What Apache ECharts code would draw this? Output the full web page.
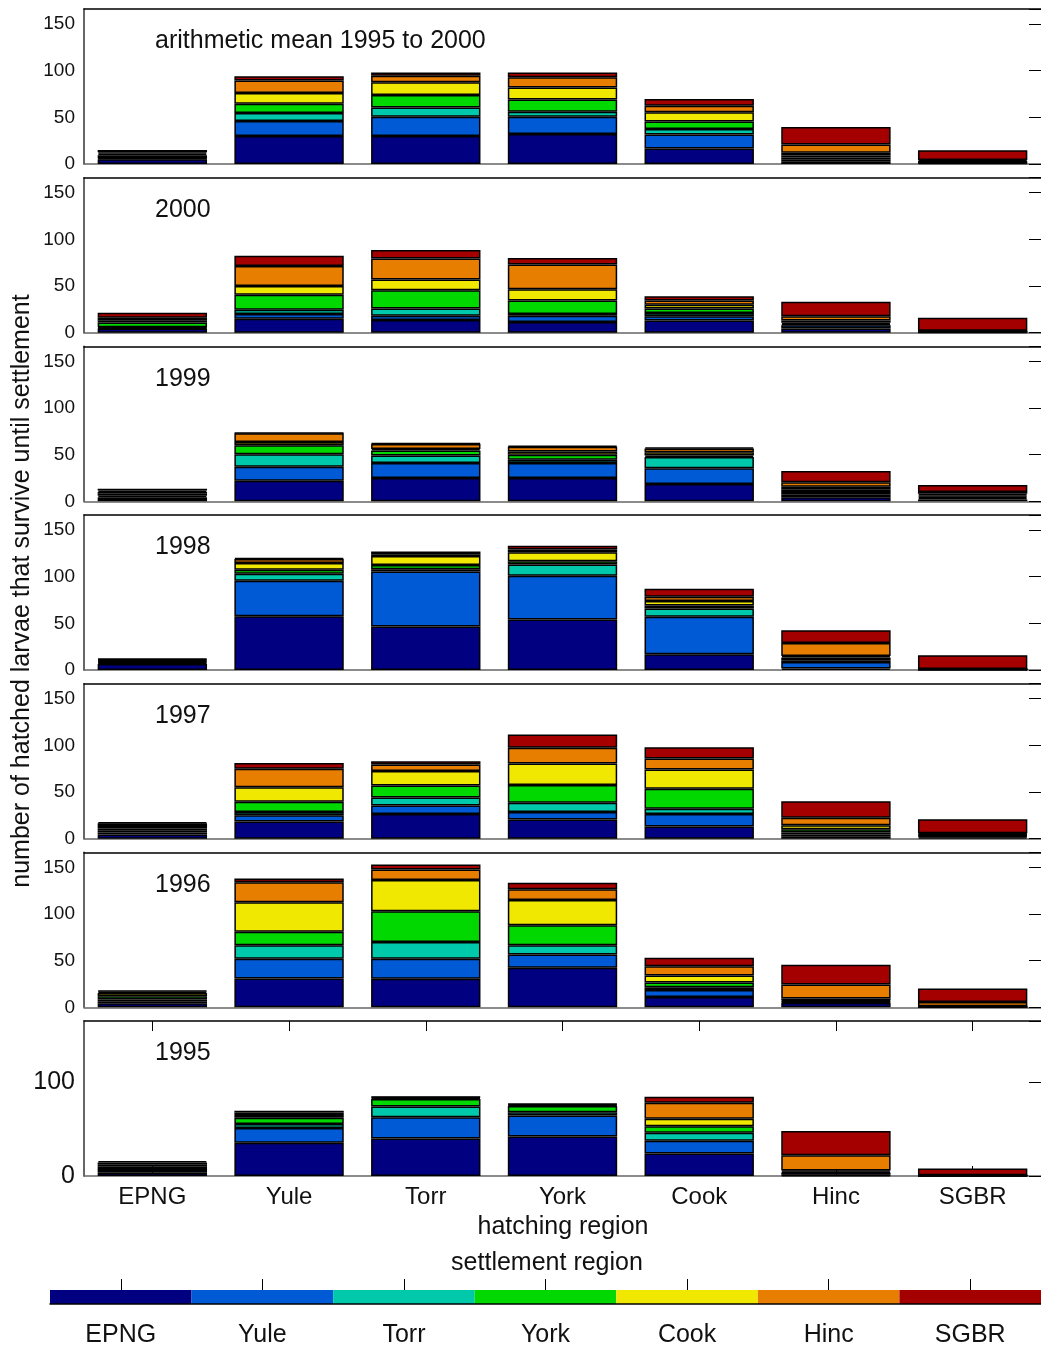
<!DOCTYPE html>
<html>
<head>
<meta charset="utf-8">
<script src="https://cdn.jsdelivr.net/npm/echarts@6/dist/echarts.min.js"></script>
<style>
html, body { margin: 0; padding: 0; background: #fff; }
#main { width: 1041px; height: 1348px; }
</style>
</head>
<body>
<div id="main"></div>
<script>
// hatching regions (bars) and settlement regions (stack segments) use the same names
var regions = ['EPNG', 'Yule', 'Torr', 'York', 'Cook', 'Hinc', 'SGBR'];
var regionColors = ['#000080', '#005ad6', '#00c8aa', '#00d800', '#f0e800', '#e87e00', '#a50000'];
var panelTitles = ['arithmetic mean 1995 to 2000', '2000', '1999', '1998', '1997', '1996', '1995'];
var yTicksSmall = [0, 50, 100, 150];
var yTicksLast = [0, 100];

// rows = hatching region, columns = settlement region
var dMean = [
    [5, 1, 0.5, 3, 1.5, 1.5, 2.5],
    [30, 16, 8.5, 10, 11.5, 13.5, 4.5],
    [30, 20.5, 10, 13.5, 13.5, 7, 3.5],
    [32, 18.5, 5.5, 13, 13, 11, 5],
    [16.5, 15, 6, 8, 10, 7, 7],
    [2.5, 2.5, 2, 2, 3, 9, 18.5],
    [1, 0.5, 0.3, 0.5, 0.5, 1.5, 10.5]
];
var d2000 = [
    [4.5, 0.7, 0.7, 5, 2.5, 2.5, 5.5],
    [15, 5, 4.5, 16, 9.5, 21.5, 11],
    [13.5, 4.5, 8, 19.5, 11.5, 22.5, 9],
    [11.5, 6.5, 2, 14.5, 12, 26.5, 7],
    [13, 4.5, 3.5, 5, 4, 4.5, 4.5],
    [4.5, 3.5, 1, 1.5, 2.5, 4.5, 15.5],
    [0.5, 0.3, 0.2, 0.3, 0.3, 0.5, 14]
];
var d1999 = [
    [2.5, 2, 1.5, 2, 2, 1.5, 2],
    [22, 15, 13.5, 9.5, 3.5, 9.5, 0.5],
    [25, 16, 8, 5.5, 1.5, 5.5, 0.7],
    [25, 16, 3.5, 5.5, 3.5, 5, 1],
    [18.5, 17, 12, 1.5, 3.5, 4, 1.5],
    [4.5, 2.5, 3, 2.5, 3, 5, 12],
    [2, 1.5, 1.5, 1.5, 1.5, 2, 7.5]
];
var d1998 = [
    [6.5, 1, 1, 1, 1, 0.8, 0.8],
    [57.5, 38, 7.5, 4.5, 7, 4.5, 1],
    [46.5, 59, 2.5, 4.5, 9.5, 2, 3],
    [54, 47, 12, 3.5, 9.5, 3, 4],
    [17, 40, 9, 3, 5, 4.5, 8.5],
    [1.5, 7, 2, 3, 1.5, 14, 13.5],
    [0.3, 0.2, 0.1, 0.2, 0.1, 0.3, 14.5]
];
var d1997 = [
    [4.5, 2, 2, 2.5, 2.5, 3, 1.3],
    [18.5, 6.5, 3.5, 11, 15.5, 20, 6],
    [26.5, 9, 8.5, 13, 15.5, 7, 3.5],
    [20.5, 8, 10, 19, 23, 17, 14],
    [13, 13.5, 5.5, 21.5, 20.5, 12, 12],
    [2, 2.5, 2, 3.5, 4.5, 8, 17.5],
    [1.5, 1, 0.8, 0.8, 0.8, 1, 15]
];
var d1996 = [
    [4.5, 2, 2, 3.5, 3.5, 1.5, 1],
    [31, 21, 14.5, 14.5, 31.5, 21.5, 4],
    [30.5, 21.5, 18, 33, 33.5, 11, 5.5],
    [42.5, 14, 10, 21.5, 27, 11.5, 7],
    [11, 7.5, 3, 5, 7.5, 10, 9],
    [5, 1, 0.5, 1, 2, 15, 21],
    [0.3, 0.2, 0.2, 0.2, 0.2, 4.5, 14.5]
];
var d1995 = [
    [3.5, 3, 2, 2, 2, 2, 1.5],
    [35.5, 15.5, 4.5, 6.5, 3, 2.5, 2],
    [40, 22.5, 11.5, 8, 1, 1, 0.5],
    [42, 22.5, 3.5, 6.5, 1, 0.8, 0.5],
    [24, 13.5, 8.5, 7, 8, 17, 6.5],
    [0.8, 0.7, 2, 1, 1.5, 16, 26],
    [0.2, 0.1, 0.1, 0.1, 0.1, 0.3, 7]
];
var panelData = [dMean, d2000, d1999, d1998, d1997, d1996, d1995];

var FONT = '"Liberation Sans", Arial, sans-serif';
var TXT = '#111';

var grids = [], xAxes = [], yAxes = [], series = [], titles = [];

panelData.forEach(function (rows, p) {
    var last = p === panelData.length - 1;
    var bottomY = 164 + p * 168.67;
    var yMax = last ? 165 : 166;
    var ticks = last ? yTicksLast : yTicksSmall;

    grids.push({ left: 84, width: 963, top: bottomY - 155, height: 155 });

    // bottom axis (category labels only on the last panel)
    xAxes.push({
        gridIndex: p, type: 'category', data: regions, position: 'bottom',
        axisLine: { onZero: false, lineStyle: { color: '#666', width: 1.5 } },
        axisTick: { show: last, inside: true, length: 10, alignWithLabel: true, lineStyle: { color: '#000' } },
        axisLabel: { show: last, fontSize: 24, color: TXT, fontFamily: FONT, margin: 9 }
    });
    // top frame line
    xAxes.push({
        gridIndex: p, type: 'category', data: regions, position: 'top', z: 5,
        axisLine: { onZero: false, lineStyle: { color: '#000', width: 1.5 } },
        axisTick: { show: last, inside: true, length: 10, alignWithLabel: true, lineStyle: { color: '#000' } },
        axisLabel: { show: false }
    });
    yAxes.push({
        gridIndex: p, type: 'value', min: 0, max: yMax, interval: last ? 100 : 50, position: 'left',
        splitLine: { show: false },
        axisLine: { show: true, onZero: false, lineStyle: { color: '#333', width: 1.5 } },
        axisTick: { inside: true, length: 8, lineStyle: { color: '#000' } },
        axisLabel: {
            fontSize: last ? 25 : 19, color: TXT, fontFamily: FONT, margin: 9,
            formatter: function (v) { return ticks.indexOf(v) >= 0 ? String(v) : ''; }
        }
    });
    yAxes.push({
        gridIndex: p, type: 'value', min: 0, max: yMax, interval: last ? 100 : 50, position: 'right',
        splitLine: { show: false },
        axisLine: { show: true, onZero: false, lineStyle: { color: 'rgba(0,0,0,0)' } },
        axisTick: { show: true, inside: true, length: 12, lineStyle: { color: '#000' } },
        axisLabel: { show: false }
    });

    regions.forEach(function (name, s) {
        series.push({
            type: 'bar', name: name,
            xAxisIndex: 2 * p, yAxisIndex: 2 * p,
            stack: 'panel' + p, barWidth: '80%', silent: true,
            itemStyle: { color: regionColors[s], borderColor: '#000', borderWidth: 1.5 },
            data: rows.map(function (r) { return r[s]; })
        });
    });

    titles.push({
        text: panelTitles[p], left: 150, top: 39 + p * 168.67 - 15,
        textStyle: { fontSize: 25, fontWeight: 'normal', color: TXT, fontFamily: FONT }
    });
});

// colour bar for settlement region
var cb = panelData.length;
grids.push({ left: 50, width: 999, top: 1290, height: 15 });
xAxes.push({
    gridIndex: cb, type: 'category', data: regions, position: 'bottom', z: 5,
    axisLine: { onZero: false, lineStyle: { color: '#000', width: 1.5 } },
    axisTick: { length: 10, alignWithLabel: true, lineStyle: { color: '#000' } },
    axisLabel: { fontSize: 25, color: TXT, fontFamily: FONT, margin: 19 }
});
xAxes.push({
    gridIndex: cb, type: 'category', data: regions, position: 'top',
    axisLine: { show: true, onZero: false, lineStyle: { color: 'rgba(0,0,0,0)' } },
    axisTick: { show: true, length: 11, alignWithLabel: true, lineStyle: { color: '#000' } },
    axisLabel: { show: false }
});
yAxes.push({ gridIndex: cb, type: 'value', min: 0, max: 1, show: false });
series.push({
    type: 'bar', xAxisIndex: 2 * cb, yAxisIndex: 2 * cb, barWidth: '100%', silent: true,
    data: regions.map(function (r, i) { return { value: 1, itemStyle: { color: regionColors[i] } }; })
});

var myChart = echarts.init(document.getElementById('main'));
myChart.setOption({
    animation: false,
    backgroundColor: '#fff',
    title: titles,
    grid: grids,
    xAxis: xAxes,
    yAxis: yAxes,
    series: series,
    graphic: [
        {
            type: 'text', x: 22, y: 591, rotation: Math.PI / 2,
            style: { text: 'number of hatched larvae that survive until settlement', font: '25px ' + FONT, fill: TXT, align: 'center', verticalAlign: 'middle' }
        },
        {
            type: 'text', x: 563, y: 1227,
            style: { text: 'hatching region', font: '25px ' + FONT, fill: TXT, align: 'center', verticalAlign: 'middle' }
        },
        {
            type: 'text', x: 547, y: 1263,
            style: { text: 'settlement region', font: '25px ' + FONT, fill: TXT, align: 'center', verticalAlign: 'middle' }
        }
    ]
});
</script>
</body>
</html>
